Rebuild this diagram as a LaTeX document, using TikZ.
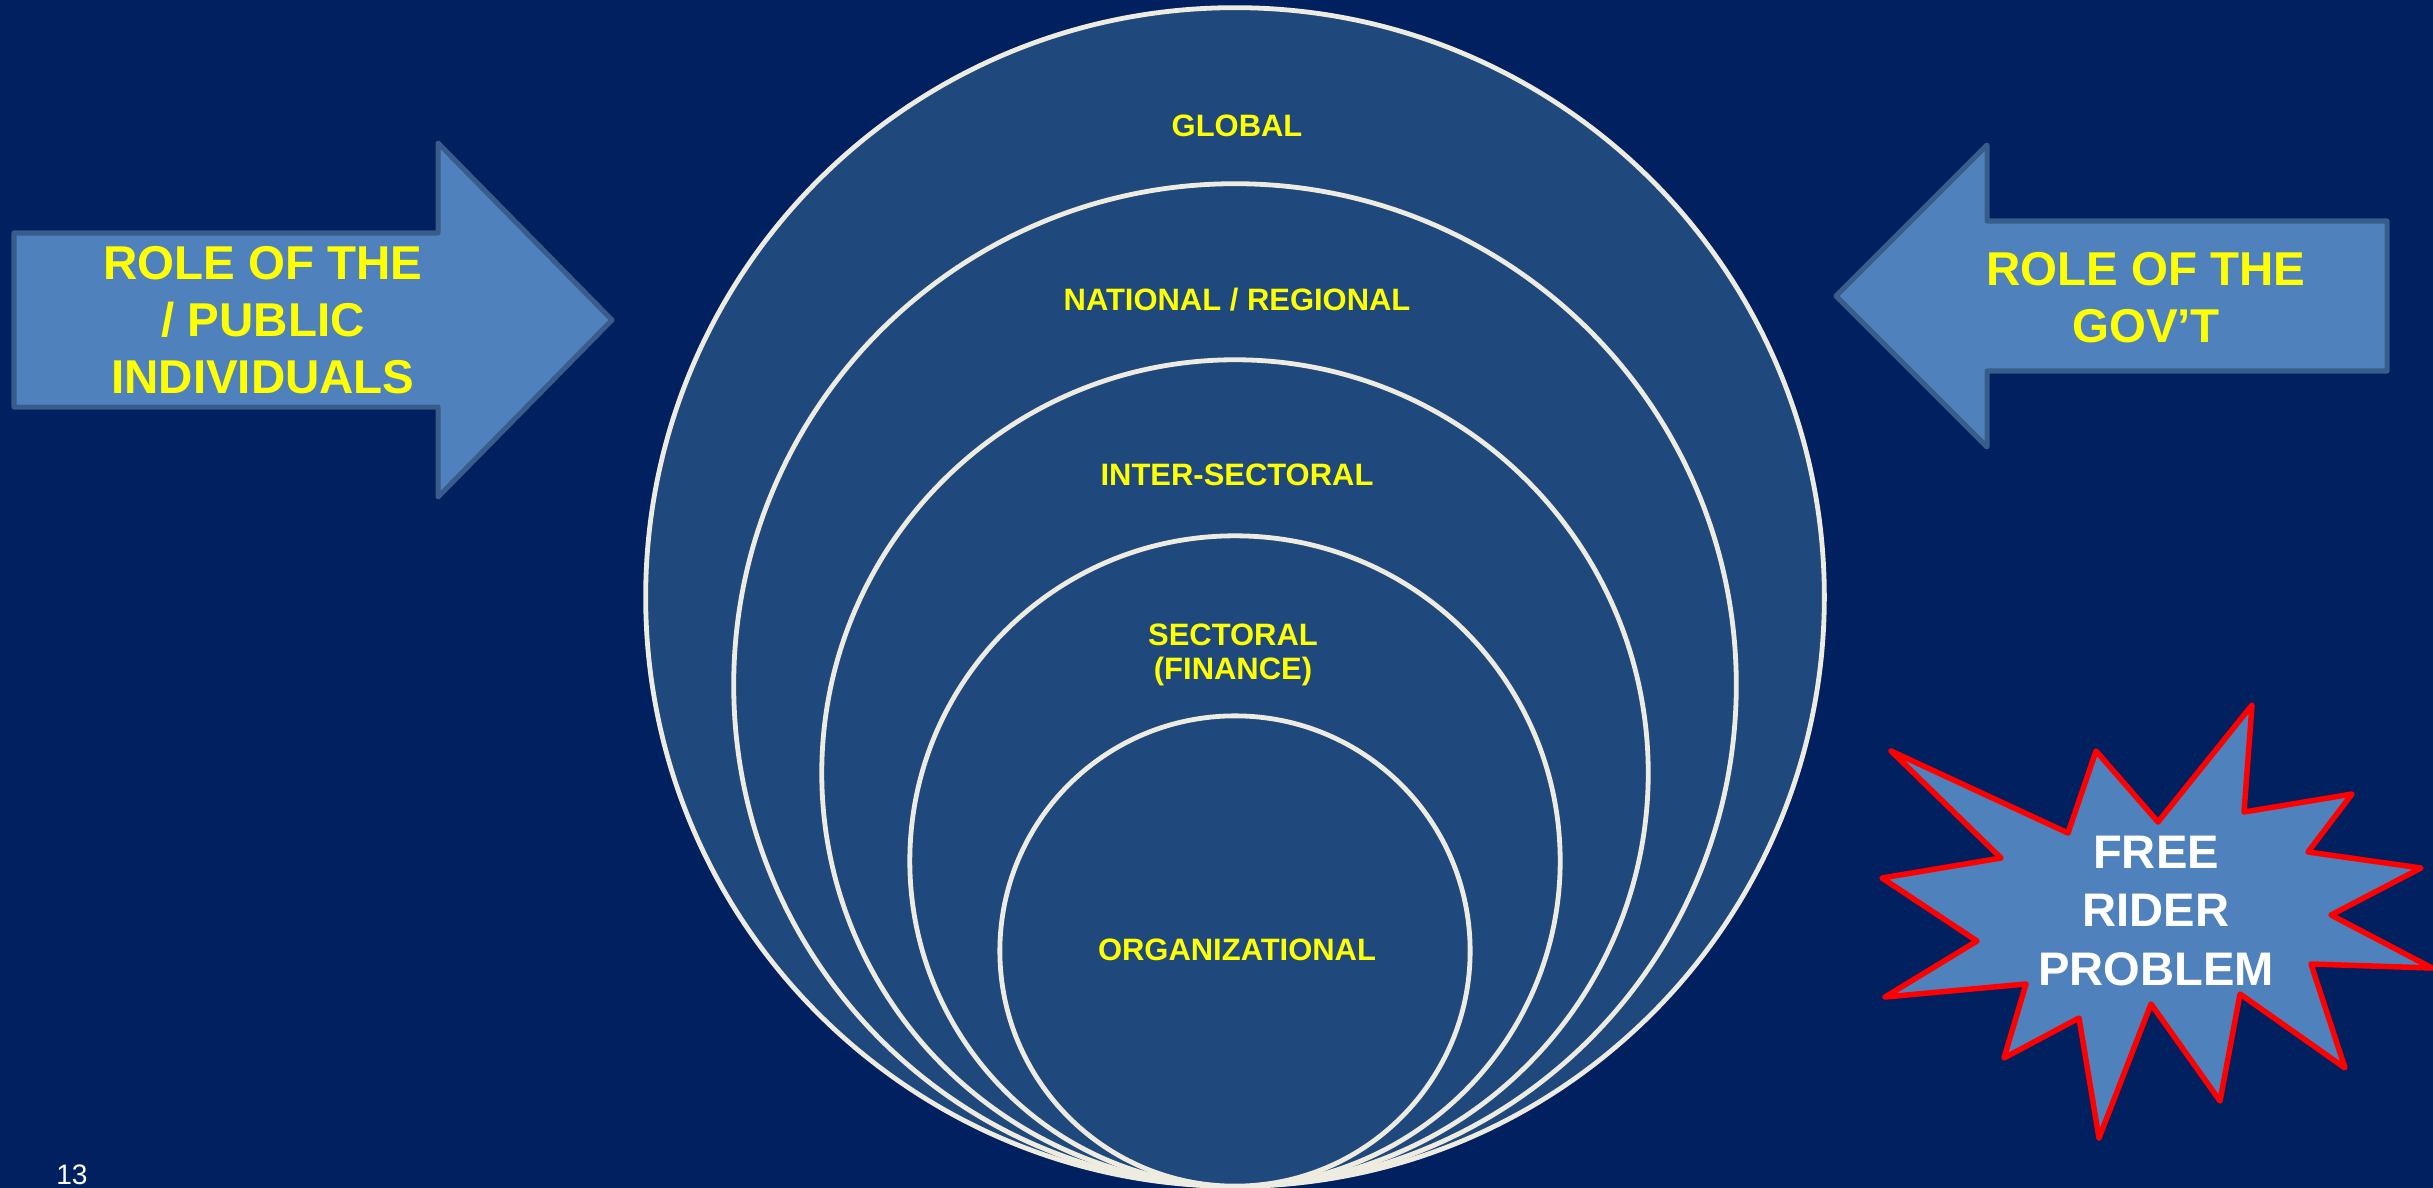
\documentclass[tikz,border=0pt]{standalone}
\usepackage{fontspec}
\setmainfont{Liberation Sans}
\definecolor{navy}{RGB}{0,32,96}
\definecolor{ringfill}{RGB}{31,73,125}
\definecolor{ringline}{RGB}{238,236,225}
\definecolor{shapefill}{RGB}{79,129,189}
\definecolor{shapeline}{RGB}{56,93,138}
\definecolor{labelyellow}{RGB}{255,255,0}
\begin{document}
\begin{tikzpicture}[x=0.01cm,y=-0.01cm,
  ring/.style={circle, draw=ringline, fill=ringfill, line width=0.048cm, inner sep=0pt},
  ringlabel/.style={text=labelyellow, font=\fontsize{8.8}{9.8}\selectfont\bfseries, align=center, inner sep=0pt},
  bigarrow/.style={draw=shapeline, fill=shapefill, line width=0.05cm, line join=round},
  arrowlabel/.style={text=labelyellow, font=\fontsize{13.5}{16.2}\selectfont\bfseries, align=center, inner sep=0pt},
  burst/.style={draw=red, fill=shapefill, line width=0.055cm, line join=round},
  burstlabel/.style={text=white, font=\fontsize{13.4}{16.5}\selectfont\bfseries, align=center, inner sep=0pt}]

% slide background
\fill[navy] (0,0) rectangle (2433,1188);
\useasboundingbox (0,0) rectangle (2433,1188);

% nested circles, all touching at the bottom
\node[ring, minimum size=11.78cm] (global)   at (1235,597) {};
\node[ring, minimum size=10.02cm] (national) at (1235,685) {};
\node[ring, minimum size=8.26cm]  (inter)    at (1235,773) {};
\node[ring, minimum size=6.50cm]  (sector)   at (1235,861) {};
\node[ring, minimum size=4.70cm]  (org)      at (1235,951) {};

\node[ringlabel] (lglobal)   at (1237,126) {GLOBAL};
\node[ringlabel] (lnational) at (1237,300) {NATIONAL / REGIONAL};
\node[ringlabel] (linter)    at (1237,475) {INTER-SECTORAL};
\node[ringlabel] (lsector)   at (1233,655) {SECTORAL\\(FINANCE)};
\node[ringlabel] (lorg)      at (1237,950) {ORGANIZATIONAL};

% left block arrow
\draw[bigarrow] (14,233) -- (438,233) -- (438,143) -- (612,320)
  -- (438,497) -- (438,407) -- (14,407) -- cycle;
\node[arrowlabel] (lpublic) at (263,320) {ROLE OF THE\\/ PUBLIC\\INDIVIDUALS};

% right block arrow
\draw[bigarrow] (2387,221) -- (1987,221) -- (1987,145) -- (1836,296)
  -- (1987,447) -- (1987,371) -- (2387,371) -- cycle;
\node[arrowlabel] (lgov) at (2146,298) {ROLE OF THE\\GOV'T};

% starburst
\draw[burst] (1891,751) -- (2068,833) -- (2096,751) -- (2158,822)
  -- (2252,705) -- (2244,812) -- (2352,794) -- (2308,852)
  -- (2421,868) -- (2331,915) -- (2432,968) -- (2311,964)
  -- (2345,1068) -- (2240,994) -- (2220,1101) -- (2151,1004)
  -- (2099,1138) -- (2079,1018) -- (2004,1058) -- (2026,984)
  -- (1885,997) -- (1977,941) -- (1882,878) -- (2001,858) -- cycle;
\node[burstlabel] (lfree) at (2156,911) {FREE\\RIDER\\PROBLEM};

% slide number
\node[text=white, font=\fontsize{8}{9.6}\selectfont, inner sep=0pt] (pagenum) at (72,1175) {13};
\end{tikzpicture}
\end{document}
